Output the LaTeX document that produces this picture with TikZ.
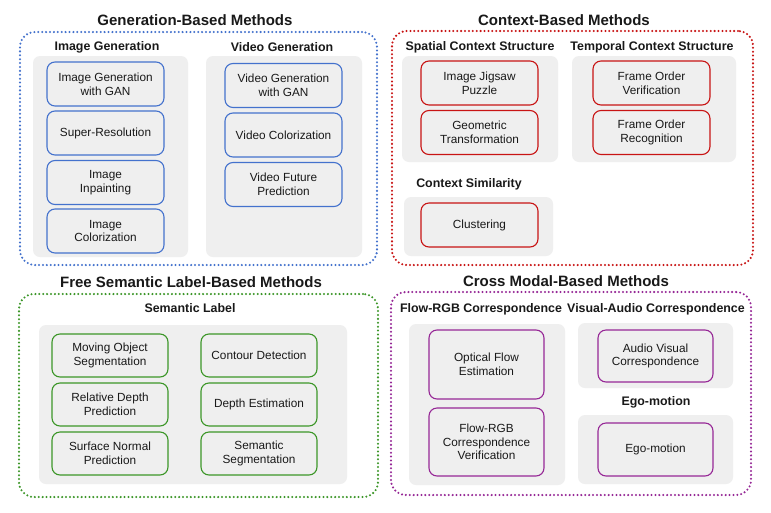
\documentclass[tikz,border=0pt]{standalone}
\usepackage{fontspec}
\setmainfont{Liberation Sans}
\definecolor{cblue}{RGB}{68,114,205}
\definecolor{cred}{RGB}{200,20,20}
\definecolor{cgreen}{RGB}{60,150,40}
\definecolor{cpurple}{RGB}{150,40,150}
\definecolor{cgray}{RGB}{239,239,239}
\definecolor{ctext}{RGB}{25,25,25}
\tikzset{
  outerbox/.style={draw, line width=2.3pt, dash pattern=on 0pt off 3.9pt, line cap=round, rounded corners=15pt},
  titletext/.style={font=\fontsize{15}{17}\selectfont\bfseries, text=ctext},
  subtext/.style={font=\fontsize{12.4}{14}\selectfont\bfseries, text=ctext},
  panel/.style={fill=cgray, draw=none, rounded corners=7pt},
  itembox/.style={draw, line width=1.1pt, rounded corners=8pt, fill=cgray, align=center,
     font=\fontsize{11.8}{13.6}\selectfont, text=ctext, inner sep=0pt},
}
\begin{document}
\begin{tikzpicture}[x=1pt,y=-1pt]
\useasboundingbox (0,0) rectangle (771,512);
\fill[white] (0,0) rectangle (771,512);

% ---------- Generation-Based Methods ----------
\node[outerbox, draw=cblue, minimum width=357pt, minimum height=233pt] (gen) at (198.5,148.5) {};
\node[titletext] (genT) at (195,20) {Generation-Based Methods};
\node[panel, minimum width=155pt, minimum height=201pt] (igP) at (110.5,156.5) {};
\node[panel, minimum width=156pt, minimum height=201pt] (vgP) at (284,156.5) {};
\node[subtext] (igL) at (107,47) {Image Generation};
\node[subtext] (vgL) at (282,47) {Video Generation};
\begin{scope}[every node/.style={itembox, draw=cblue, minimum width=117pt, minimum height=44pt}]
\node (ig1) at (105.5,84) {Image Generation\\with GAN};
\node (ig2) at (105.5,133) {Super-Resolution};
\node (ig3) at (105.5,182.5) {Image\\Inpainting};
\node (ig4) at (105.5,231) {Image\\Colorization};
\node (vg1) at (283.5,85.5) {Video Generation\\with GAN};
\node (vg2) at (283.5,135) {Video Colorization};
\node (vg3) at (283.5,184.5) {Video Future\\Prediction};
\end{scope}

% ---------- Context-Based Methods ----------
\node[outerbox, draw=cred, minimum width=361pt, minimum height=234pt] (ctx) at (572.5,148) {};
\node[titletext] (ctxT) at (564,20) {Context-Based Methods};
\node[panel, minimum width=156pt, minimum height=106pt] (scsP) at (480,109) {};
\node[panel, minimum width=164pt, minimum height=106pt] (tcsP) at (654,109) {};
\node[panel, minimum width=149pt, minimum height=59pt] (csP) at (478.5,226.5) {};
\node[subtext] (scsL) at (480,47) {Spatial Context Structure};
\node[subtext] (tcsL) at (652,47) {Temporal Context Structure};
\node[subtext] (csL) at (469,184) {Context Similarity};
\begin{scope}[every node/.style={itembox, draw=cred, minimum width=117pt, minimum height=44pt}]
\node (s1) at (479.5,83) {Image Jigsaw\\Puzzle};
\node (s2) at (479.5,132.5) {Geometric\\Transformation};
\node (t1) at (651.5,83) {Frame Order\\Verification};
\node (t2) at (651.5,132.5) {Frame Order\\Recognition};
\node (c1) at (479.5,225) {Clustering};
\end{scope}

% ---------- Free Semantic Label-Based Methods ----------
\node[outerbox, draw=cgreen, minimum width=359pt, minimum height=203pt] (fsl) at (198.5,395.5) {};
\node[titletext] (fslT) at (191,282) {Free Semantic Label-Based Methods};
\node[panel, minimum width=308pt, minimum height=159pt] (slP) at (193,404.5) {};
\node[subtext] (slL) at (190,308) {Semantic Label};
\begin{scope}[every node/.style={itembox, draw=cgreen, minimum width=116pt, minimum height=43pt}]
\node (l1) at (110,355.5) {Moving Object\\Segmentation};
\node (l2) at (110,404.5) {Relative Depth\\Prediction};
\node (l3) at (110,453.5) {Surface Normal\\Prediction};
\node (r1) at (259,355.5) {Contour Detection};
\node (r2) at (259,404.5) {Depth Estimation};
\node (r3) at (259,453.5) {Semantic\\Segmentation};
\end{scope}

% ---------- Cross Modal-Based Methods ----------
\node[outerbox, draw=cpurple, minimum width=360pt, minimum height=203pt] (cm) at (571,393.5) {};
\node[titletext] (cmT) at (566,281) {Cross Modal-Based Methods};
\node[panel, minimum width=156pt, minimum height=161pt] (frP) at (487,404.5) {};
\node[panel, minimum width=155pt, minimum height=65pt] (vaP) at (655.5,355.5) {};
\node[panel, minimum width=155pt, minimum height=69pt] (egP) at (655.5,449.5) {};
\node[subtext] (frL) at (481,309) {Flow-RGB Correspondence};
\node[subtext] (vaL) at (656,309) {Visual-Audio Correspondence};
\node[subtext] (egL) at (656,402) {Ego-motion};
\begin{scope}[every node/.style={itembox, draw=cpurple, minimum width=115pt}]
\node[minimum height=69pt] (f1) at (486.5,364.5) {Optical Flow\\Estimation};
\node[minimum height=68pt] (f2) at (486.5,442) {Flow-RGB\\Correspondence\\Verification};
\node[minimum height=52pt] (v1) at (655.5,356) {Audio Visual\\Correspondence};
\node[minimum height=53pt] (e1) at (655.5,449.5) {Ego-motion};
\end{scope}
\end{tikzpicture}
\end{document}
